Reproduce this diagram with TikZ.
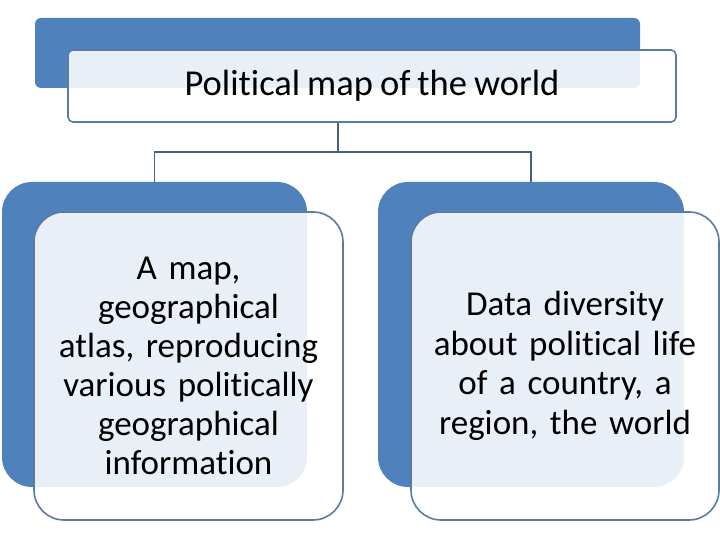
\documentclass[tikz,border=0pt]{standalone}
\usepackage{fontspec}
\setmainfont{Carlito}[Ligatures=NoCommon,WordSpace=0.85]
\definecolor{accblue}{HTML}{4F81BD}
\definecolor{edgeblue}{HTML}{5A7CA3}
\definecolor{linkcol}{HTML}{44627F}
\begin{document}
\begin{tikzpicture}[x=1pt,y=-1pt,
  backbox/.style={draw=none,fill=accblue,rounded corners=#1,inner sep=0pt},
  frontbox/.style={draw=edgeblue,line width=1.6pt,fill=white,fill opacity=0.88,text opacity=1,rounded corners=#1,inner sep=0pt,align=center,text=black},
  link/.style={draw=linkcol,line width=1.6pt}]
\useasboundingbox (0,0) rectangle (720,540);
\fill[white] (0,0) rectangle (720,540);
% top
\node[backbox=6pt,minimum width=605pt,minimum height=70pt] (topblue) at (337.5,53) {};
\node[frontbox=5pt,minimum width=608pt,minimum height=72pt,font=\fontsize{36.5}{40}\selectfont] (topwhite) at (372,86) {Political map of the world};
% lower
\node[backbox=30pt,minimum width=305pt,minimum height=305pt] (lblue) at (154.5,334.5) {};
\node[backbox=30pt,minimum width=306pt,minimum height=305pt] (rblue) at (531,334.5) {};
\node[frontbox=30pt,minimum width=309pt,minimum height=308pt,text width=300pt,font=\fontsize{35}{39}\selectfont] (lwhite) at (188.5,366) {A map,\\geographical\\atlas, reproducing\\various politically\\geographical\\information};
\node[frontbox=30pt,minimum width=308pt,minimum height=308pt,text width=300pt,font=\fontsize{35}{39.5}\selectfont] (rwhite) at (565,366) {Data diversity\\about political life\\of a country, a\\region, the world};
% connectors
\coordinate (j) at (338,152);
\draw[link] (topwhite.south -| j) -- (j);
\draw[link] (lblue.north) |- (j) -| (rblue.north);
\end{tikzpicture}
\end{document}
